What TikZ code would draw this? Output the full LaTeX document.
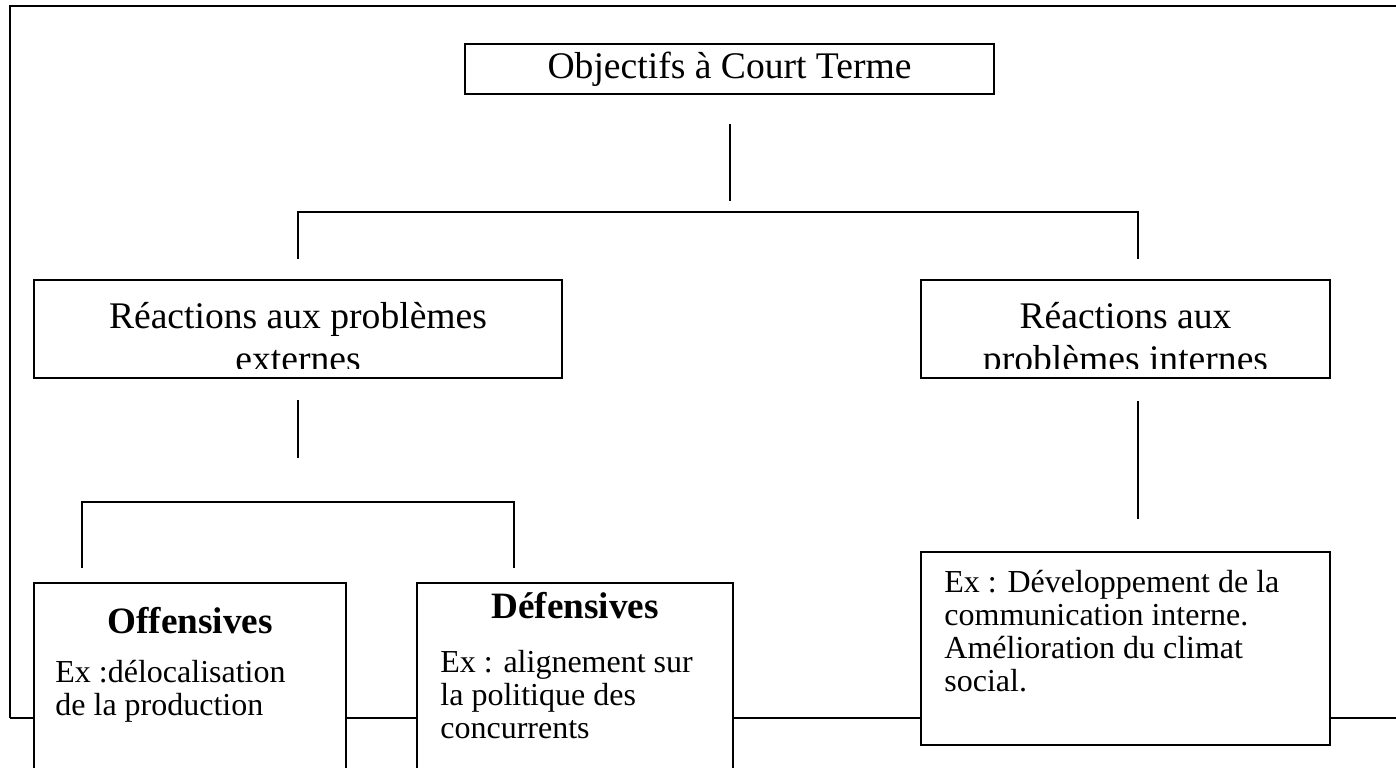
\documentclass[tikz,border=0pt]{standalone}
\usepackage{fontspec}
\setmainfont{Liberation Serif}
\begin{document}
\begin{tikzpicture}
        [x=0.5pt,y=-0.5pt,
         cadre/.style={line width=1pt},
         boite/.style={draw,line width=1pt,fill=white,rectangle,inner sep=0pt},
         lien/.style={line width=0.7pt},
         grand/.style={font=\fontsize{18.8}{21.5}\selectfont,inner sep=0pt},
         gras/.style={font=\fontsize{18.6}{21.5}\selectfont\bfseries,inner sep=0pt,anchor=base},
         petit/.style={font=\fontsize{16}{16.5}\selectfont,align=left,inner sep=0pt,anchor=north west}]
        \useasboundingbox (0,0) rectangle (1396,767);
        \clip (0,0) rectangle (1396,767);

        % cadre
        \draw[cadre] (10,718) -- (10,6) -- (1396,6);
        \draw[cadre] (10,718) -- (1396,718);

        % boites
        \node[boite,grand,minimum width=264.5pt,minimum height=25pt] (objectifs) at (729.5,69) {Objectifs à Court Terme};
        \node[boite,minimum width=264pt,minimum height=49pt] (externes) at (298,329) {};
        \node[boite,minimum width=204.5pt,minimum height=49pt] (internes) at (1125.5,329) {};
        \node[boite,minimum width=156pt,minimum height=133.5pt] (offensives) at (190,716.5) {};
        \node[boite,minimum width=158pt,minimum height=133.5pt] (defensives) at (575,716.5) {};
        \node[boite,minimum width=204.5pt,minimum height=96.5pt] (exinternes) at (1125.5,648.5) {};

        \begin{scope}
          \clip (34,280) rectangle (1330,368);
          \node[grand,align=center,anchor=north] (txtext) at (298,302) {Réactions aux problèmes\\externes};
          \node[grand,align=center,anchor=north] (txtint) at (1125.5,302) {Réactions aux\\problèmes internes};
        \end{scope}

        \node[gras] (titoff) at (190,633) {Offensives};
        \node[gras] (titdef) at (575,618) {Défensives};
        \node[petit] (exoff) at (55,660) {Ex :délocalisation\\de la production};
        \node[petit] (exdef) at (440,650) {Ex : alignement sur\\la politique des\\concurrents};
        \node[petit] (exint) at (944,570) {Ex : Développement de la\\communication interne.\\Amélioration du climat\\social.};

        % liens
        \coordinate (a1) at (730,124);
        \coordinate (a2) at (730,201);
        \coordinate (b1) at (298,259);
        \coordinate (b2) at (1138,259);
        \coordinate (c1) at (298,400);
        \coordinate (c2) at (298,458);
        \coordinate (d1) at (82,568);
        \coordinate (d2) at (514,568);
        \coordinate (e1) at (1138,401);
        \coordinate (e2) at (1138,519);

        \draw[lien] (a1) -- (a2);
        \draw[lien] (b1) |- (1138,212) -- (b2);
        \draw[lien] (c1) -- (c2);
        \draw[lien] (d1) |- (514,502) -- (d2);
        \draw[lien] (e1) -- (e2);
      \end{tikzpicture}
\end{document}
